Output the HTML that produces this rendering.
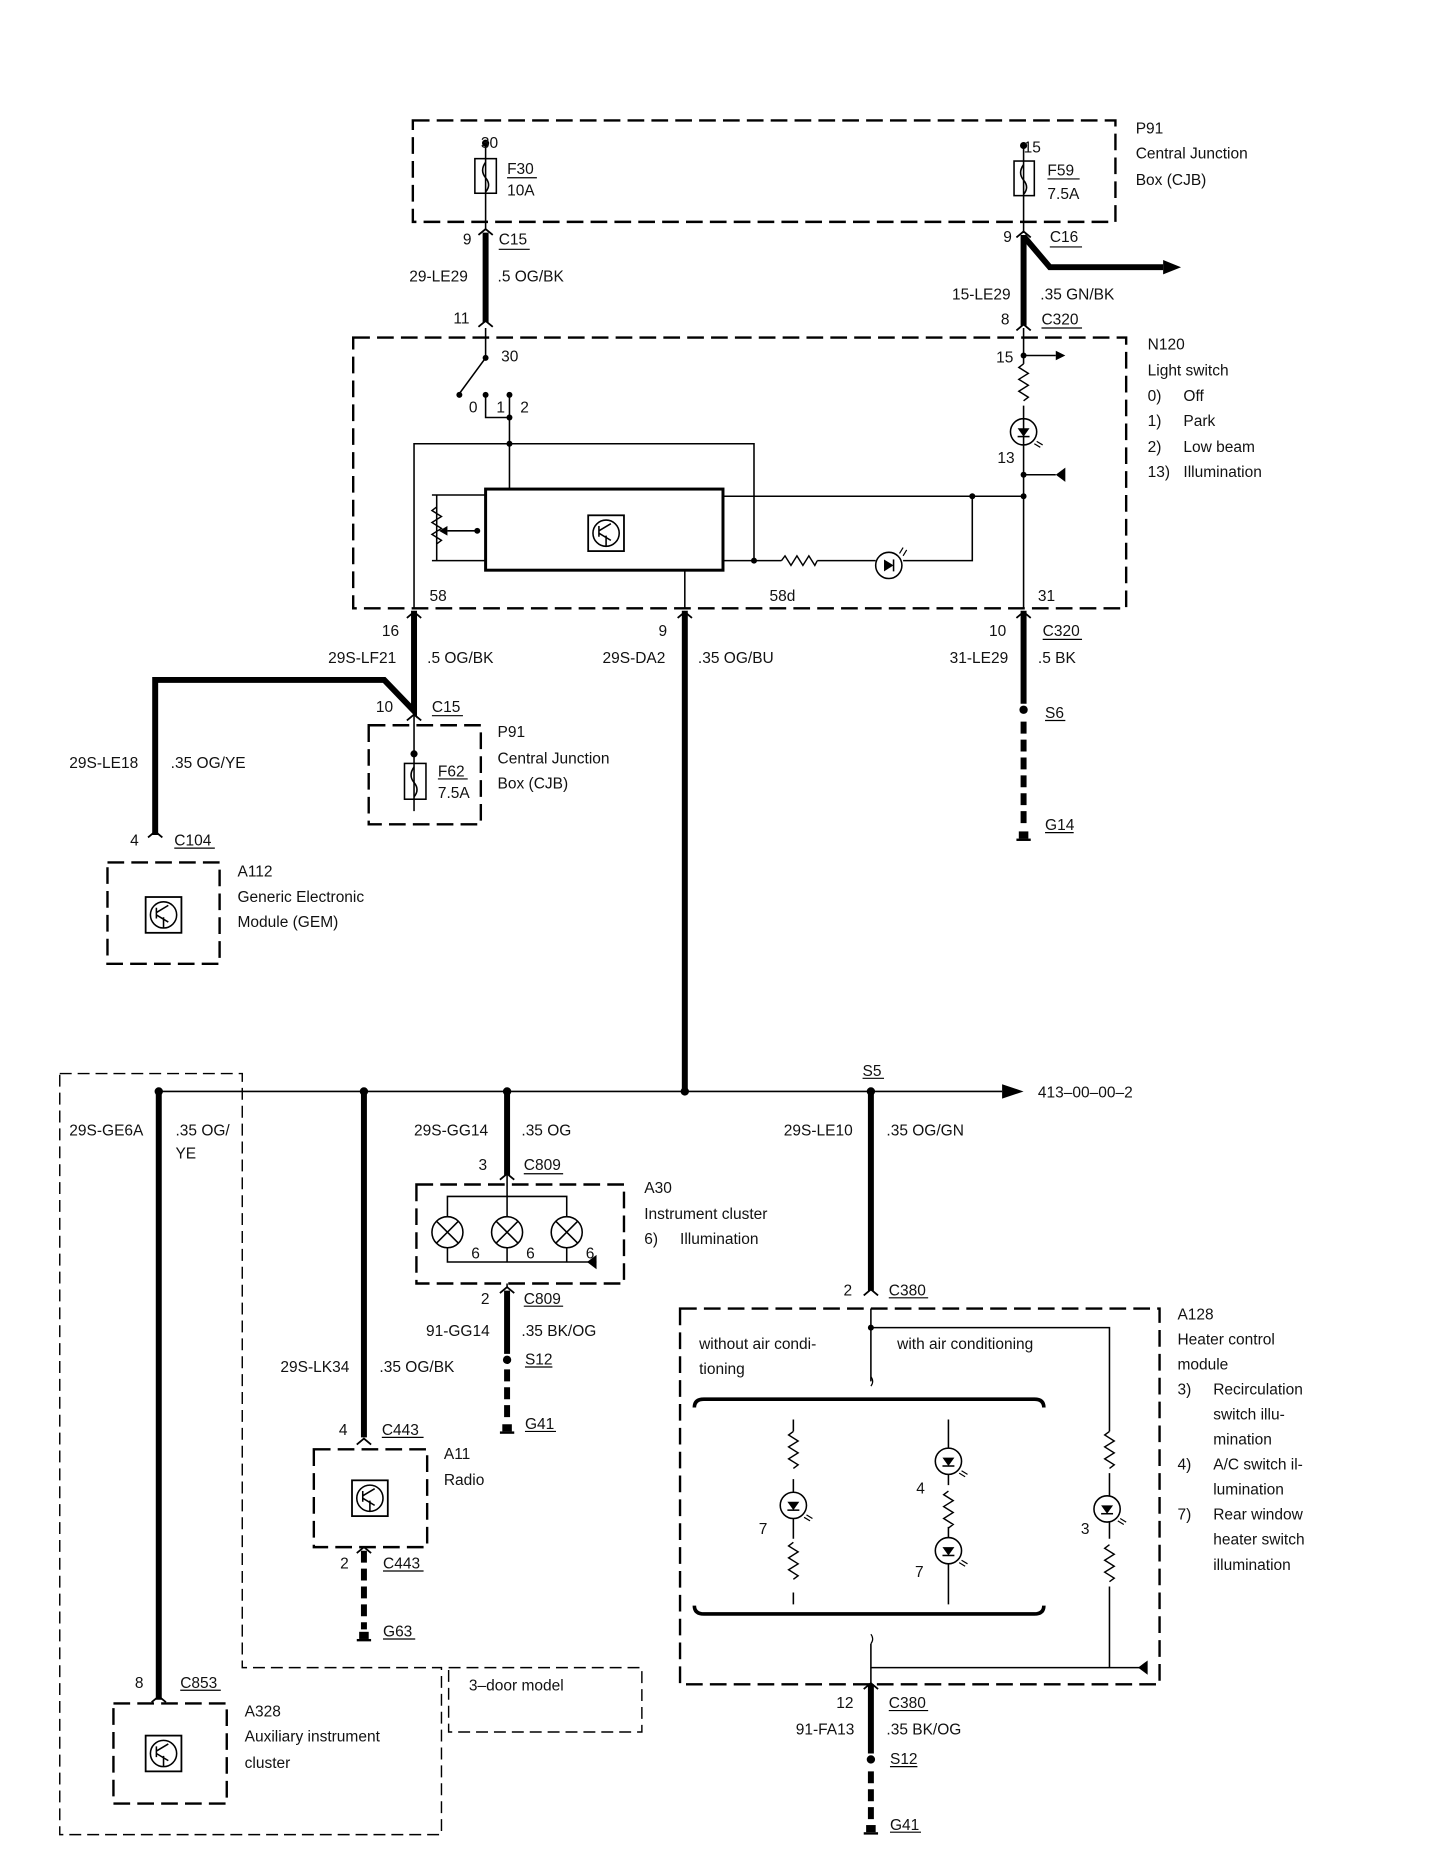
<!DOCTYPE html>
<html><head><meta charset="utf-8"><style>
html,body{margin:0;padding:0;background:#fff;}
svg{display:block;}
text{font-family:"Liberation Sans",sans-serif;font-size:13px;fill:#111;}
</style></head><body>
<svg width="1440" height="1868" viewBox="0 0 1207 1566" xmlns="http://www.w3.org/2000/svg">
<defs>
<g id="ic"><rect x="-15" y="-15" width="30" height="30" fill="none" stroke="#000" stroke-width="1.5"/><circle cx="0" cy="0" r="11" fill="none" stroke="#000" stroke-width="1.3"/><path d="M-6,-6 L-6,3 M-6,-2 L4,-8 M-6,0 L4,6 M0,2 L0,11" stroke="#000" stroke-width="1.3" fill="none"/></g>
<g id="gnd"><rect x="-4" y="-6" width="8" height="6" fill="#000"/><rect x="-6" y="0" width="12" height="2" fill="#000"/></g>
<g id="led"><circle r="11" fill="none" stroke="#000" stroke-width="1.3"/><path d="M-5,-3 L5,-3 L0,4 Z" fill="#000"/><path d="M-5,4 L5,4" stroke="#000" stroke-width="1.3"/><path d="M9,10 l5,3 M11,8 l5,3" stroke="#000" stroke-width="1"/></g>
<g id="ledl"><circle r="11" fill="none" stroke="#000" stroke-width="1.3"/><path d="M-4,-5 L-4,5 L4,0 Z" fill="#000"/><path d="M4,-5 L4,5" stroke="#000" stroke-width="1.3"/><path d="M9,-10 l3,-5 M12,-8 l3,-5" stroke="#000" stroke-width="1"/></g>
<path id="res" d="M0,0 l-4,3 l8,5 l-8,5 l8,5 l-8,5 l8,5 l-4,3" fill="none" stroke="#000" stroke-width="1.2"/>
</defs>
<g fill="none" stroke="#000" stroke-width="2" stroke-dasharray="14,6">
<rect x="346" y="101" width="589" height="85"/>
<rect x="296" y="283" width="648" height="227"/>
<rect x="309" y="608" width="94" height="83"/>
<rect x="90" y="723" width="94" height="85"/>
<rect x="349" y="993" width="174" height="83"/>
<rect x="263" y="1215" width="95" height="82"/>
<rect x="95" y="1428" width="95" height="84"/>
<rect x="570" y="1097" width="402" height="315"/>
<rect x="376" y="1398" width="162" height="54" stroke-width="1.2" stroke-dasharray="10,5"/>
<path d="M50,900 L203,900 L203,1398 L370,1398 L370,1538 L50,1538 Z" stroke-width="1.2" stroke-dasharray="10,5"/>
</g>
<g stroke="#000" stroke-width="1.3" fill="none">
<path d="M407,118 V193"/><rect x="398" y="133" width="18" height="29"/><path d="M407,136 q-5,7 0,13 q5,6 0,12"/>
<path d="M858,120 V195"/><rect x="850" y="135" width="17" height="29"/><path d="M858,138 q-5,7 0,13 q5,6 0,12"/>
<path d="M347,600 V632 M347,632 V680"/><rect x="339" y="640" width="18" height="30"/><path d="M347,643 q-5,7 0,13 q5,6 0,12"/>
<path d="M407,275 V300 L385,330"/>
<path d="M407,331 V350 H427 V331 M427,350 V410"/>
<path d="M347,510 V372 H632 V470"/>
<path d="M362,415 H407 M362,470 H407 M366,415 V470"/>
<path d="M375,445 H400"/>
<path d="M606,470 H655 M685,470 H734 M757,470 H815 V416 M606,416 H858"/>
<path d="M574,478 V510"/>
<path d="M858,275 V305 M858,340 V510 M858,298 H885 M858,398 H885"/>
<path d="M730,1097 V1158 M730,1113 H930 V1200 M930,1235 V1254 M930,1276 V1290 M930,1330 V1398 H960 M730,1378 V1412 M730,1398 H930"/>
<path d="M665,1190 V1200 M665,1240 V1251 M665,1273 V1290 M665,1335 V1345"/>
<path d="M795,1190 V1214 M795,1236 V1245 M795,1280 V1289 M795,1311 V1345"/>
<path d="M730,1162 q3,-4 0,-8 M730,1378 q3,-4 0,-8" stroke-width="1"/>
<path d="M375,1020 V1003 H475 V1020 M375,1046 V1058 H500 M475,1046 V1058 M425,1046 V1058 M425,985 V1020 M425,1076 V1080"/>
<path d="M133,915 H840"/>
</g>
<use href="#res" x="366" y="425"/><use href="#res" x="858" y="305"/>
<use href="#res" x="930" y="1200"/><use href="#res" x="930" y="1295"/>
<use href="#res" x="665" y="1200"/><use href="#res" x="665" y="1293"/>
<use href="#res" x="795" y="1250"/>
<path d="M655,470 l3,-4 l5,8 l5,-8 l5,8 l5,-8 l5,8 l2,-4" fill="none" stroke="#000" stroke-width="1.2"/>
<use href="#led" x="858" y="362"/><use href="#led" x="928" y="1265"/><use href="#led" x="665" y="1262"/>
<use href="#led" x="795" y="1225"/><use href="#led" x="795" y="1300"/><use href="#ledl" x="745" y="474"/>
<g stroke="#000" stroke-width="1.3" fill="#fff"><circle cx="375" cy="1033" r="13"/><circle cx="425" cy="1033" r="13"/><circle cx="475" cy="1033" r="13"/></g>
<path d="M366,1024 l18,18 M384,1024 l-18,18 M416,1024 l18,18 M434,1024 l-18,18 M466,1024 l18,18 M484,1024 l-18,18" stroke="#000" stroke-width="1.3"/>
<rect x="407" y="410" width="199" height="68" fill="none" stroke="#000" stroke-width="2.5"/>
<use href="#ic" x="508" y="447"/><use href="#ic" x="137" y="767"/><use href="#ic" x="310" y="1256"/><use href="#ic" x="137" y="1470"/>
<g stroke="#000" stroke-width="5" fill="none">
<path d="M407,195 V270"/><path d="M858,197 V273"/><path d="M858,198 L880,224 H975"/>
<path d="M347,512 V596 L322,570 H130 V700"/>
<path d="M574,512 V915"/><path d="M858,512 V590"/>
<path d="M133,915 V1425"/><path d="M305,915 V1205"/><path d="M425,915 V985"/><path d="M730,915 V1082"/>
<path d="M425,1082 V1135"/><path d="M730,1412 V1470"/>
<path d="M582,1180 q0,-7 8,-7 H867 q8,0 8,7 M582,1346 q0,7 8,7 H867 q8,0 8,-7" stroke-width="3"/>
</g>
<g stroke="#000" stroke-width="5" stroke-dasharray="10,5"><path d="M858,605 V695"/><path d="M425,1148 V1192"/><path d="M305,1300 V1366"/><path d="M730,1485 V1527"/></g>
<use href="#gnd" x="858" y="703"/><use href="#gnd" x="425" y="1200"/><use href="#gnd" x="305" y="1374"/><use href="#gnd" x="730" y="1536"/>
<path d="M975,218 L990,224 L975,230 Z M840,909 L858,915 L840,921 Z M885,294 L893,298 L885,302 Z M893,392 L885,398 L893,404 Z M500,1052 L492,1058 L500,1064 Z M962,1392 L954,1398 L962,1404 Z M375,441 L368,445 L375,449 Z" fill="#000"/>
<g stroke="#000" stroke-width="1.5" fill="none">
<path d="M401,197 l6,-5 l6,5 M401,274 l6,-5 l6,5 M852,199 l6,-5 l6,5 M852,277 l6,-5 l6,5 M341,518 l6,-5 l6,5 M568,518 l6,-5 l6,5 M852,518 l6,-5 l6,5 M341,604 l6,-5 l6,5 M124,702 l6,-5 l6,5 M419,989 l6,-5 l6,5 M419,1084 l6,-5 l6,5 M299,1211 l6,-5 l6,5 M299,1302 l6,-5 l6,5 M127,1427 l6,-5 l6,5 M724,1086 l6,-5 l6,5 M724,1416 l6,-5 l6,5"/>
</g>
<g fill="#000"><circle cx="407" cy="120" r="3"/><circle cx="858" cy="122" r="3"/><circle cx="407" cy="300" r="2.5"/><circle cx="407" cy="331" r="2.5"/><circle cx="427" cy="331" r="2.5"/><circle cx="427" cy="350" r="2.5"/><circle cx="427" cy="372" r="2.5"/><circle cx="400" cy="445" r="2.5"/><circle cx="632" cy="470" r="2.5"/><circle cx="815" cy="416" r="2.5"/><circle cx="858" cy="416" r="2.5"/><circle cx="858" cy="298" r="2.5"/><circle cx="858" cy="398" r="2.5"/><circle cx="385" cy="331" r="2.5"/><circle cx="347" cy="632" r="3"/>
<circle cx="858" cy="595" r="3.5"/><circle cx="133" cy="915" r="3.5"/><circle cx="305" cy="915" r="3.5"/><circle cx="425" cy="915" r="3.5"/><circle cx="574" cy="915" r="3.5"/><circle cx="730" cy="915" r="3.5"/><circle cx="425" cy="1140" r="3.5"/><circle cx="730" cy="1475" r="3.5"/><circle cx="730" cy="1113" r="2.5"/></g>
<g stroke="#000" stroke-width="1"><path d="M425,149 H450 M878,150 H905 M367,653 H392 M418,209 H444 M880,207 H907 M873,275 H907 M874,536 H907 M362,600 H388 M146,711 H180 M876,604 H893 M876,698 H900 M723,904 H741 M439,984 H472 M439,1095 H472 M440,1146 H463 M440,1200 H466 M320,1205 H355 M321,1317 H355 M321,1374 H348 M151,1417 H185 M745,1088 H778 M745,1434 H778 M746,1481 H769 M746,1536 H772"/></g>
<text x="403" y="124">30</text><text x="425" y="146">F30</text><text x="425" y="164">10A</text>
<text x="858" y="128">15</text><text x="878" y="147">F59</text><text x="878" y="167">7.5A</text>
<text x="952" y="112">P91</text><text x="952" y="133">Central Junction</text><text x="952" y="155">Box (CJB)</text>
<text x="388" y="205">9</text><text x="418" y="205">C15</text><text x="343" y="236">29-LE29</text><text x="417" y="236">.5 OG/BK</text><text x="380" y="271">11</text>
<text x="841" y="203">9</text><text x="880" y="203">C16</text><text x="798" y="251">15-LE29</text><text x="872" y="251">.35 GN/BK</text><text x="839" y="272">8</text><text x="873" y="272">C320</text>
<text x="962" y="293">N120</text><text x="962" y="315">Light switch</text><text x="962" y="336">0)</text><text x="992" y="336">Off</text><text x="962" y="357">1)</text><text x="992" y="357">Park</text><text x="962" y="379">2)</text><text x="992" y="379">Low beam</text><text x="962" y="400">13)</text><text x="992" y="400">Illumination</text>
<text x="420" y="303">30</text><text x="393" y="346">0</text><text x="416" y="346">1</text><text x="436" y="346">2</text>
<text x="835" y="304">15</text><text x="836" y="388">13</text>
<text x="360" y="504">58</text><text x="645" y="504">58d</text><text x="870" y="504">31</text>
<text x="320" y="533">16</text><text x="275" y="556">29S-LF21</text><text x="358" y="556">.5 OG/BK</text>
<text x="552" y="533">9</text><text x="505" y="556">29S-DA2</text><text x="585" y="556">.35 OG/BU</text>
<text x="829" y="533">10</text><text x="874" y="533">C320</text><text x="796" y="556">31-LE29</text><text x="870" y="556">.5 BK</text>
<text x="876" y="602">S6</text><text x="876" y="696">G14</text>
<text x="315" y="597">10</text><text x="362" y="597">C15</text>
<text x="367" y="651">F62</text><text x="367" y="669">7.5A</text>
<text x="417" y="618">P91</text><text x="417" y="640">Central Junction</text><text x="417" y="661">Box (CJB)</text>
<text x="58" y="644">29S-LE18</text><text x="143" y="644">.35 OG/YE</text>
<text x="109" y="709">4</text><text x="146" y="709">C104</text>
<text x="199" y="735">A112</text><text x="199" y="756">Generic Electronic</text><text x="199" y="777">Module (GEM)</text>
<text x="723" y="902">S5</text><text x="870" y="920">413–00–00–2</text>
<text x="58" y="952">29S-GE6A</text><text x="147" y="952">.35 OG/</text><text x="147" y="971">YE</text>
<text x="347" y="952">29S-GG14</text><text x="437" y="952">.35 OG</text>
<text x="657" y="952">29S-LE10</text><text x="743" y="952">.35 OG/GN</text>
<text x="401" y="981">3</text><text x="439" y="981">C809</text>
<text x="540" y="1000">A30</text><text x="540" y="1022">Instrument cluster</text><text x="540" y="1043">6)</text><text x="570" y="1043">Illumination</text>
<text x="395" y="1055">6</text><text x="441" y="1055">6</text><text x="491" y="1055">6</text>
<text x="403" y="1093">2</text><text x="439" y="1093">C809</text><text x="357" y="1120">91-GG14</text><text x="437" y="1120">.35 BK/OG</text>
<text x="440" y="1144">S12</text><text x="440" y="1198">G41</text>
<text x="235" y="1150">29S-LK34</text><text x="318" y="1150">.35 OG/BK</text>
<text x="284" y="1203">4</text><text x="320" y="1203">C443</text><text x="372" y="1223">A11</text><text x="372" y="1245">Radio</text>
<text x="285" y="1315">2</text><text x="321" y="1315">C443</text><text x="321" y="1372">G63</text>
<text x="393" y="1417">3–door model</text>
<text x="113" y="1415">8</text><text x="151" y="1415">C853</text>
<text x="205" y="1439">A328</text><text x="205" y="1460">Auxiliary instrument</text><text x="205" y="1482">cluster</text>
<text x="707" y="1086">2</text><text x="745" y="1086">C380</text>
<text x="586" y="1131">without air condi-</text><text x="586" y="1152">tioning</text><text x="752" y="1131">with air conditioning</text>
<text x="636" y="1286">7</text><text x="768" y="1252">4</text><text x="767" y="1322">7</text><text x="906" y="1286">3</text>
<text x="987" y="1106">A128</text><text x="987" y="1127">Heater control</text><text x="987" y="1148">module</text>
<text x="987" y="1169">3)</text><text x="1017" y="1169">Recirculation</text><text x="1017" y="1190">switch illu-</text><text x="1017" y="1211">mination</text>
<text x="987" y="1232">4)</text><text x="1017" y="1232">A/C switch il-</text><text x="1017" y="1253">lumination</text>
<text x="987" y="1274">7)</text><text x="1017" y="1274">Rear window</text><text x="1017" y="1295">heater switch</text><text x="1017" y="1316">illumination</text>
<text x="701" y="1432">12</text><text x="745" y="1432">C380</text><text x="667" y="1454">91-FA13</text><text x="743" y="1454">.35 BK/OG</text>
<text x="746" y="1479">S12</text><text x="746" y="1534">G41</text>
</svg>
</body></html>
